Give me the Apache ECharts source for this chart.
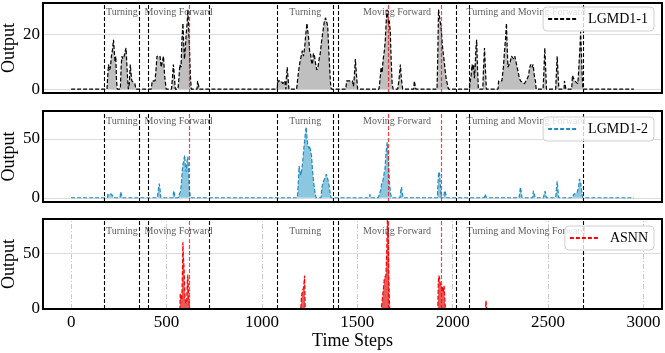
<!DOCTYPE html>
<html>
<head>
<meta charset="utf-8">
<script src="https://cdn.jsdelivr.net/npm/echarts@6/dist/echarts.min.js"></script>
<style>
  html, body { margin: 0; padding: 0; background: #fff; }
  #chart { width: 665px; height: 353px; }
</style>
</head>
<body>
<div id="chart"></div>
<script>
// phase boundaries (time steps) and phase names
const boundaries = [175, 357, 402, 724, 1081, 1373, 1399, 2018, 2087, 2683];
const phaseNames = ["Turning", "Moving Forward", "Turning", "Moving Forward", "Turning and Moving Forward"];
// collision events (red lines)
const events = [619, 1660, 1941];
const xTicks = [0, 500, 1000, 1500, 2000, 2500, 3000];

// LGMD1-1 output [time step, value]
const lgmd1 = [
  [0, 0], [188, 0], [192, 5], [196, 9], [201, 7], [206, 8], [211, 12], [216, 14], [222, 18], [226, 14],
  [230, 10], [234, 12], [238, 3], [242, 0], [258, 0], [262, 8], [266, 12], [272, 11], [278, 12], [284, 14],
  [288, 15], [292, 9], [296, 4], [300, 0], [305, 2], [310, 9], [314, 6], [318, 3], [326, 3], [334, 2], [340, 0],
  [420, 0], [425, 3], [440, 3], [446, 8], [450, 12], [458, 12], [466, 12], [472, 8], [478, 10], [484, 12],
  [490, 5], [498, 0], [526, 0], [531, 4], [536, 9], [541, 5], [546, 0],
  [560, 0], [565, 4], [570, 9], [576, 8], [581, 18], [586, 24], [590, 17], [594, 11], [598, 14], [603, 20],
  [608, 24], [612, 29], [616, 22], [621, 14], [625, 5], [630, 0], [660, 0], [663, 3], [668, 3], [672, 0],
  [1080, 0], [1084, 3], [1100, 3], [1110, 2], [1120, 3], [1126, 0], [1128, 4], [1133, 8], [1138, 3], [1142, 0],
  [1182, 0], [1188, 4], [1195, 8], [1200, 10], [1206, 12], [1212, 14], [1218, 12], [1224, 15], [1230, 20],
  [1236, 24], [1241, 21], [1246, 18], [1250, 14], [1255, 13], [1260, 10], [1265, 9], [1270, 13], [1276, 12],
  [1282, 9], [1288, 7], [1294, 8], [1300, 11], [1306, 13], [1312, 17], [1316, 19], [1322, 22], [1328, 25],
  [1334, 26], [1340, 26], [1345, 23], [1350, 15], [1355, 8], [1360, 2], [1364, 0],
  [1440, 0], [1444, 3], [1460, 3], [1475, 3], [1480, 1], [1484, 4], [1490, 11], [1496, 5], [1502, 0],
  [1614, 0], [1620, 4], [1625, 8], [1630, 6], [1636, 11], [1642, 14], [1647, 18], [1652, 25], [1656, 29],
  [1660, 27], [1664, 24], [1668, 25], [1673, 21], [1678, 10], [1683, 2], [1688, 0],
  [1712, 0], [1718, 3], [1722, 6], [1726, 9], [1731, 4], [1738, 0], [1796, 0], [1799, 3], [1804, 3], [1807, 0],
  [1918, 0], [1922, 12], [1926, 29], [1933, 29], [1940, 22], [1946, 16], [1951, 13], [1956, 10], [1962, 6],
  [1968, 3], [1972, 2], [1978, 0],
  [2088, 0], [2092, 3], [2097, 5], [2102, 9], [2106, 7], [2110, 9], [2114, 4], [2118, 8], [2122, 15],
  [2126, 18], [2130, 8], [2135, 0], [2158, 0], [2162, 8], [2167, 15], [2172, 7], [2177, 0],
  [2238, 0], [2241, 3], [2258, 3], [2266, 8], [2272, 14], [2278, 19], [2282, 24], [2286, 15], [2290, 8],
  [2296, 8], [2302, 10], [2308, 12], [2314, 12], [2320, 11], [2326, 12], [2332, 10], [2338, 8], [2344, 6],
  [2350, 4], [2356, 3], [2366, 3], [2376, 2], [2384, 3], [2392, 4], [2398, 5], [2404, 8], [2410, 9],
  [2416, 8], [2422, 9], [2428, 5], [2434, 3], [2438, 0], [2474, 0], [2478, 6], [2483, 15], [2488, 7], [2492, 0],
  [2540, 0], [2544, 6], [2548, 12], [2553, 5], [2557, 0], [2584, 0], [2586, 3], [2592, 3], [2594, 0],
  [2624, 0], [2628, 5], [2634, 4], [2640, 3], [2650, 3], [2656, 2], [2660, 6], [2664, 11], [2668, 16],
  [2671, 21], [2675, 13], [2679, 5], [2683, 0], [2950, 0]
];

// LGMD1-2 output
const lgmd2 = [
  [0, 0], [190, 0], [193, 3], [200, 3], [212, 3], [220, 3], [223, 0], [256, 0], [260, 5], [264, 6], [268, 0],
  [452, 0], [456, 6], [462, 12], [466, 7], [470, 0], [534, 0], [538, 6], [542, 5], [546, 0],
  [562, 0], [568, 3], [574, 6], [578, 12], [582, 22], [586, 28], [590, 31], [595, 36], [599, 26], [603, 22],
  [607, 30], [612, 35], [616, 20], [620, 8], [625, 0],
  [1186, 0], [1190, 10], [1195, 27], [1200, 22], [1204, 19], [1208, 23], [1214, 30], [1220, 42], [1226, 52],
  [1232, 60], [1237, 50], [1241, 44], [1246, 42], [1250, 44], [1255, 44], [1260, 36], [1266, 22], [1272, 12],
  [1278, 5], [1284, 0], [1310, 0], [1314, 8], [1320, 13], [1326, 12], [1332, 17], [1338, 20], [1344, 20],
  [1350, 13], [1356, 6], [1362, 0],
  [1564, 0], [1566, 3], [1571, 3], [1574, 0],
  [1610, 0], [1616, 3], [1622, 6], [1628, 12], [1634, 14], [1640, 20], [1645, 24], [1650, 36], [1654, 44],
  [1657, 47], [1661, 40], [1665, 26], [1669, 13], [1674, 4], [1680, 0], [1724, 0], [1728, 6], [1732, 9],
  [1736, 4], [1740, 0],
  [1920, 0], [1923, 12], [1927, 22], [1932, 20], [1936, 10], [1940, 0], [1952, 0], [1956, 4], [1960, 6],
  [1964, 3], [1968, 0], [2166, 0], [2170, 3], [2175, 2], [2178, 0],
  [2348, 0], [2352, 5], [2356, 9], [2360, 4], [2364, 0], [2420, 0], [2423, 6], [2430, 6], [2433, 0],
  [2476, 0], [2480, 3], [2484, 5.5], [2488, 3], [2492, 0], [2540, 0], [2544, 7], [2548, 14], [2552, 6], [2556, 0],
  [2630, 0], [2634, 3], [2640, 3], [2652, 4], [2660, 9], [2665, 16], [2668, 17], [2672, 12], [2678, 3],
  [2682, 0], [2950, 0]
];

// ASNN output
const asnn = [
  [0, 0], [570, 0], [572, 14], [576, 14], [580, 8], [583, 30], [586, 60], [589, 45], [592, 37], [595, 20],
  [598, 8], [602, 5], [606, 8], [609, 25], [612, 31], [616, 12], [620, 0],
  [1204, 0], [1207, 10], [1210, 14], [1215, 14], [1219, 20], [1224, 30], [1227, 0],
  [1626, 0], [1630, 7], [1634, 7], [1638, 20], [1642, 28], [1646, 28], [1650, 30], [1654, 50], [1658, 80],
  [1662, 75], [1665, 32], [1668, 10], [1670, 0],
  [1922, 0], [1925, 25], [1928, 30], [1931, 28], [1935, 23], [1940, 23], [1945, 20], [1950, 15], [1955, 21],
  [1958, 21], [1962, 0], [2172, 0], [2175, 7.5], [2178, 0], [2950, 0]
];

const serif = "Liberation Serif";
const xMin = -147.5, xMax = 3097.5;
const LEFT = 43, RIGHT = 3;
const panels = [
  { name: "LGMD1-1", data: lgmd1, top: 3, height: 90, yMin: -1.4, yMax: 31.4, yTicks: [0, 20], labelY: 28.1,
    line: "#000", area: "#bfbfbf", legendTop: 7, vGrid: false },
  { name: "LGMD1-2", data: lgmd2, top: 111, height: 91, yMin: -3.6, yMax: 73.6, yTicks: [0, 50], labelY: 65,
    line: "#1f8bc0", area: "#8bc7df", legendTop: 117, vGrid: false },
  { name: "ASNN", data: asnn, top: 219, height: 90, yMin: 0, yMax: 81, yTicks: [0, 50], labelY: 70,
    line: "#ff0000", area: "rgba(220,0,0,0.65)", legendTop: 226, vGrid: true }
];

const mids = phaseNames.map((n, k) => (boundaries[2 * k] + boundaries[2 * k + 1]) / 2);

const chart = echarts.init(document.getElementById("chart"), null, { renderer: "canvas" });

const grid = [], xAxis = [], yAxis = [], series = [], legend = [], graphic = [];

panels.forEach((p, i) => {
  const last = i === panels.length - 1;
  grid.push({ left: LEFT, right: RIGHT, top: p.top, height: p.height, containLabel: false, outerBoundsMode: "none" });
  xAxis.push({
    type: "value", gridIndex: i, min: xMin, max: xMax,
    axisLine: { show: false }, axisTick: { show: false }, splitLine: { show: false },
    axisLabel: { show: last, customValues: xTicks, formatter: v => String(v), fontFamily: serif, fontSize: 17, color: "#000", margin: 5 },
    name: last ? "Time Steps" : "", nameLocation: "middle", nameGap: 19,
    nameTextStyle: { fontFamily: serif, fontSize: 18, color: "#000" }
  });
  yAxis.push({
    type: "value", gridIndex: i, min: p.yMin, max: p.yMax,
    axisLine: { show: false }, axisTick: { show: false }, splitLine: { show: false },
    axisLabel: { customValues: p.yTicks, formatter: v => String(v), fontFamily: serif, fontSize: 17, color: "#000", margin: 3 },
    name: "Output", nameLocation: "middle", nameGap: 25, nameMoveOverlap: false,
    nameTextStyle: { fontFamily: serif, fontSize: 18, color: "#000" }
  });

  // grid lines
  const gl = p.yTicks.map(v => ({ yAxis: v, lineStyle: { color: "#d3d3d3", width: 0.8, type: "solid" } }));
  if (p.vGrid) xTicks.forEach(v => gl.push({ xAxis: v, lineStyle: { color: "#c4c4c4", width: 0.9, type: [5, 2, 1, 2] } }));
  series.push({
    type: "line", xAxisIndex: i, yAxisIndex: i, data: [], silent: true, z: 1,
    markLine: { silent: true, symbol: ["none", "none"], label: { show: false }, animation: false, z: 1, data: gl }
  });

  // main series
  series.push({
    name: p.name, type: "line", xAxisIndex: i, yAxisIndex: i, data: p.data,
    symbol: "none", showSymbol: false, animation: false, z: 3,
    lineStyle: { color: p.line, width: 1.2, type: [4, 2] },
    itemStyle: { color: p.line },
    areaStyle: { color: p.area, opacity: 1 }
  });

  // phase boundaries and events
  series.push({
    type: "line", xAxisIndex: i, yAxisIndex: i, data: [], silent: true, z: 4,
    markLine: {
      silent: true, symbol: ["none", "none"], label: { show: false }, animation: false,
      data: boundaries.map(v => ({ xAxis: v, lineStyle: { color: "#000", width: 1.1, type: [4, 2] } }))
        .concat(events.map(v => ({ xAxis: v, lineStyle: { color: "rgba(255,0,0,0.75)", width: 1.2, type: [4, 2] } })))
    }
  });

  // phase names
  series.push({
    type: "scatter", xAxisIndex: i, yAxisIndex: i, symbolSize: 0, silent: true, z: 5,
    data: mids.map((m, k) => ({ value: [m, p.labelY], name: phaseNames[k] })),
    label: { show: true, position: "inside", formatter: d => d.name, fontFamily: serif, fontSize: 10, color: "#333" }
  });

  legend.push({
    data: [p.name], right: 11, top: p.legendTop, selectedMode: false,
    backgroundColor: "rgba(255,255,255,0.8)", borderColor: "#d0d0d0", borderWidth: 1, borderRadius: 4,
    padding: [5, 6, 5, 4], itemWidth: 28, itemHeight: 14, z: 10,
    itemStyle: { opacity: 0 },
    textStyle: { fontFamily: serif, fontSize: 14, color: "#000", padding: [0, 0, 0, 7] }
  });

  graphic.push({
    type: "rect", z: 100, silent: true,
    shape: { x: LEFT, y: p.top, width: 665 - LEFT - RIGHT, height: p.height },
    style: { fill: "none", stroke: "#000", lineWidth: 2 }
  });
});

chart.setOption({ animation: false, backgroundColor: "#fff", grid, xAxis, yAxis, series, legend, graphic });
</script>
</body>
</html>
